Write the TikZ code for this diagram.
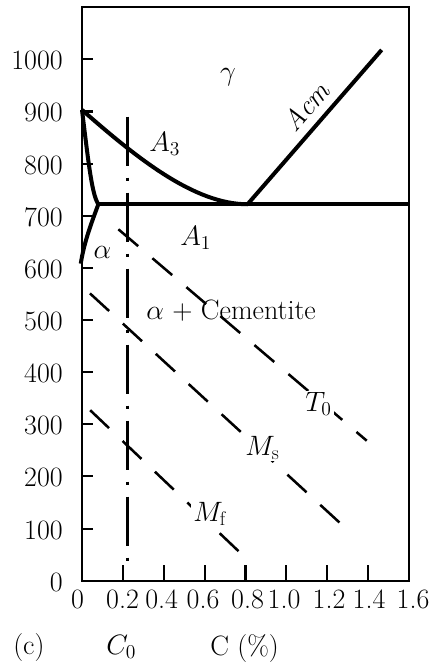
\RequirePackage{fix-cm}
\documentclass[tikz,border=0pt]{standalone}
\usepackage{fontspec}
\setmainfont{Latin Modern Roman}
\begin{document}
\begin{tikzpicture}[x=0.75pt,y=-0.75pt,
  txt/.style={font=\fontsize{21}{25}\selectfont, inner sep=0pt},
  onl/.style={txt, fill=white, inner sep=1.5pt},
  frame/.style={line width=1.6pt},
  phase/.style={line width=3pt, line join=round},
  tickmark/.style={line width=1.6pt},
  dline/.style={line width=1.9pt, dash pattern=on 19.5pt off 14pt},
  dotline/.style={line width=1.7pt, dash pattern=on 36.75pt off 9pt on 2.25pt off 9pt}]
\useasboundingbox (0,0) rectangle (434,665);
\begin{scope}[shift={(82,580.7)}, x=153.3pt, y=0.39105pt]
  \coordinate (bl) at (0,0);
  \coordinate (tr) at (1.6,1100);
  \coordinate (a3s) at (0,903);
  \coordinate (eut) at (0.81,722);
  \coordinate (acmE) at (1.466,1018);
  \coordinate (aj) at (0.08,722);
  \coordinate (a1E) at (1.6,722);
  \coordinate (alE) at (-0.006,608);
  \coordinate (t0s) at (0.178,674);
  \coordinate (t0e) at (1.393,268.5);
  \coordinate (mss) at (0.039,551);
  \coordinate (mse) at (1.278,105);
  \coordinate (mfs) at (0.04,327);
  \coordinate (mfe) at (0.781,51);
  \coordinate (c0s) at (0.222,890);
  \coordinate (c0e) at (0.222,36);
  % frame and ticks
  \draw[frame] (bl) rectangle (tr);
  \foreach \t in {100,200,...,1000}
    \draw[tickmark] (0,\t) -- ++(8.5pt,0);
  \foreach \c in {0.2,0.4,...,1.4}
    \draw[tickmark] (\c,0) -- ++(0,12pt);
  % dashed lines
  \draw[dline] (t0s) -- (t0e);
  \draw[dline] (mss) -- (mse);
  \draw[dline] (mfs) -- (mfe);
  \draw[dotline] (c0s) -- (c0e);
  % phase boundaries
  \draw[phase] (aj) -- (a1E);
  \draw[phase] (a3s) .. controls (0.27,810) and (0.55,722) .. (eut);
  \draw[phase] (a3s) .. controls (0.035,790) and (0.05,740) .. (aj)
                     .. controls (0.05,690) and (0.01,650) .. (alE);
  \draw[phase] (eut) -- node[txt, sloped, above=6pt, pos=0.55] (acm) {\textit{Acm}} (acmE);
\end{scope}
% y tick labels
\foreach \v/\yy in {1000/59.3,900/111.4,800/163.6,700/215.7,600/267.9,500/320,400/372.1,300/424.3,200/476.4,100/528.6,0/580.7}
  \node[txt, anchor=east] (ylab\v) at (63,\yy+1.5) {\v};
% x tick labels
\foreach \l/\xx [count=\i] in {0/77.5,0.2/122.5,0.4/161.7,0.6/203,0.8/247.5,1.0/284,1.2/329,1.4/369,1.6/413}
  \node[txt, anchor=base] (xlab\i) at (\xx,608) {\l};
% region and line labels
\node[txt] (gam) at (228,77) {$\gamma$};
\node[txt, anchor=base west] (la3) at (149,151.7) {$A_3$};
\node[txt, anchor=base west] (la1) at (180,245) {$A_1$};
\node[txt, anchor=base] (lal) at (102.5,258.3) {$\alpha$};
\node[txt, anchor=base west] (lac) at (146,319) {$\alpha$ + Cementite};
\node[onl, anchor=base west] (lt0) at (303,411.7) {$T_0$};
\node[onl, anchor=base west] (lms) at (243,455) {$M_\mathrm{s}$};
\node[onl, anchor=base west] (lmf) at (191,521.7) {$M_\mathrm{f}$};
% bottom captions
\node[txt, anchor=base west] (cap) at (13,654) {(c)};
\node[txt, anchor=base west] (c0) at (106,654) {$C_0$};
\node[txt, anchor=base west] (cax) at (210,655) {C (\%)};
\end{tikzpicture}
\end{document}
